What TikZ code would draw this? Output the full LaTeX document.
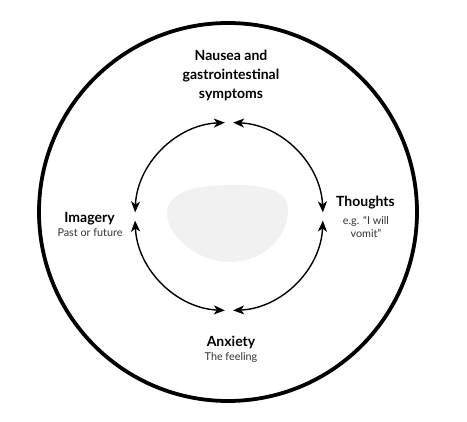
\documentclass[tikz,border=0pt]{standalone}
\usepackage{fontspec}
\setmainfont{Lato}
\usetikzlibrary{arrows.meta}
\definecolor{blobgray}{HTML}{F1F1F1}
\definecolor{subgray}{HTML}{333333}
\tikzset{
  head/.style={font=\bfseries\fontsize{14}{19}\selectfont, text=black, align=center, inner sep=0pt},
  sub/.style={font=\fontsize{10.8}{13}\selectfont, text=subgray, align=center, inner sep=0pt},
  cyc/.style={line width=1.4pt, {Stealth[length=11pt,width=9pt,inset=3pt]}-{Stealth[length=11pt,width=9pt,inset=3pt]}},
  outer/.style={line width=3.8pt, draw=black}
}
\begin{document}
\begin{tikzpicture}[x=1pt,y=1pt]
\path[use as bounding box, fill=white] (0,0) rectangle (467,422);
% outer circle
\coordinate (oc) at (228,210);
\draw[outer] (oc) circle[radius=189];
% blob
\fill[blobgray] (167,210) .. controls (169,232) and (200,237) .. (233,237)
  .. controls (270,237) and (288,230) .. (288,212)
  .. controls (288,182) and (260,160) .. (230,160)
  .. controls (196,160) and (166,188) .. (167,210) -- cycle;
% inner cycle
\coordinate (ic) at (229,205.5);
\draw[cyc] (ic) ++(87.5:94) arc[start angle=87.5, end angle=2.5, radius=94];
\draw[cyc] (ic) ++(-2.5:94) arc[start angle=-2.5, end angle=-87.5, radius=94];
\draw[cyc] (ic) ++(-92.5:94) arc[start angle=-92.5, end angle=-177.5, radius=94];
\draw[cyc] (ic) ++(177.5:94) arc[start angle=177.5, end angle=92.5, radius=94];
% labels
\node[head] (nausea) at (231,347) {Nausea and\\gastrointestinal\\symptoms};
\node[head] (imagery) at (89.5,203) {Imagery};
\node[sub] (imsub) at (90,189) {Past or future};
\node[head] (thoughts) at (365.5,219) {Thoughts};
\node[sub] (thsub) at (366,195.5) {e.g. “I will\\vomit”};
\node[head] (anxiety) at (231,80) {Anxiety};
\node[sub] (anxsub) at (231,64) {The feeling};
\end{tikzpicture}
\end{document}
